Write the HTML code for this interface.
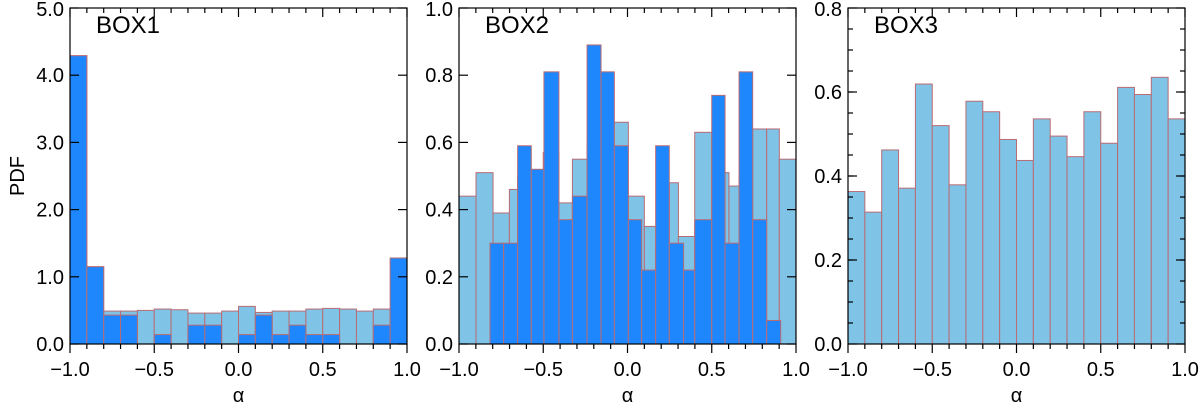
<!DOCTYPE html>
<html><head><meta charset="utf-8"><style>
body{margin:0;background:#fff}
svg text{font-family:"Liberation Sans",sans-serif;fill:#000}
</style></head><body>
<svg id="c" width="1200" height="408"></svg>
<script>
// Panel 1 (BOX1): 20 bins of width 0.1
const box1Light=[4.29,1.15,0.49,0.49,0.50,0.52,0.51,0.46,0.46,0.49,0.56,0.47,0.49,0.49,0.52,0.53,0.52,0.49,0.52,0.51];
const box1Dark=[4.29,1.15,0.43,0.43,0,0.14,0,0.28,0.28,0,0.14,0.43,0.14,0.28,0.14,0.14,0,0,0.28,1.28];
// Panel 2 (BOX2): bin edges and values
const box2LightEdges=[-1,-0.899,-0.798,-0.701,-0.652,-0.5,-0.407,-0.327,-0.24,-0.078,0.005,0.1,0.167,0.248,0.302,0.399,0.5,0.579,0.602,0.662,0.743,0.826,0.901,1];
const box2Light=[0.44,0.51,0.39,0.46,0.5,0.57,0.42,0.55,0.6,0.66,0.44,0.35,0.3,0.48,0.32,0.63,0.5,0.51,0.47,0.5,0.64,0.64,0.55];
const box2DarkEdges=[-0.816,-0.735,-0.652,-0.571,-0.496,-0.407,-0.327,-0.24,-0.157,-0.078,0.005,0.084,0.167,0.248,0.333,0.399,0.5,0.579,0.662,0.743,0.826,0.909];
const box2Dark=[0.30,0.30,0.59,0.52,0.81,0.37,0.44,0.89,0.81,0.59,0.37,0.22,0.59,0.30,0.22,0.37,0.74,0.30,0.81,0.37,0.07];
// Panel 3 (BOX3): 20 bins
const box3=[0.363,0.314,0.462,0.371,0.619,0.52,0.379,0.578,0.553,0.487,0.437,0.536,0.495,0.446,0.553,0.478,0.611,0.594,0.635,0.536];
const xTicks=["\u22121.0","\u22120.5","0.0","0.5","1.0"];
const xTickVals=[-1,-0.5,0,0.5,1];
const y1Ticks=[0,1,2,3,4,5], y2Ticks=[0,0.2,0.4,0.6,0.8,1.0], y3Ticks=[0,0.2,0.4,0.6,0.8];

const svg=document.getElementById('c');
const NS='http://www.w3.org/2000/svg';
function mk(tag,attrs,parent){const e=document.createElementNS(NS,tag);for(const k in attrs)e.setAttribute(k,attrs[k]);(parent||svg).appendChild(e);return e;}
const LIGHT='#7fc3e6', DARK='#1f87fd', EDGE='#b86c74';
const T=8,B=344;
function panel(name,x0,x1,ymax,yt,dec,label){
  const g=mk('g',{});
  
  
  const sx=v=>x0+(v+1)/2*(x1-x0);
  const sy=v=>B-v/ymax*(B-T);
  return {g,sx,sy,x0,x1,ymax,yt,dec,label};
}
function bars(p,edges,vals,color,nm){
  for(let i=0;i<vals.length;i++){
    const xa=p.sx(edges[i]),xb=p.sx(edges[i+1]),y=p.sy(vals[i]);
    if(vals[i]<=0)continue;
    const r=mk('rect',{x:xa,y:y,width:xb-xa,height:B-y,fill:color,stroke:EDGE,'stroke-width':1},p.g);
    
    
  }
}
function axes(p,yMinor){
  const fr=mk('rect',{x:p.x0,y:T,width:p.x1-p.x0,height:B-T,fill:'none',stroke:'#000','stroke-width':1.2},p.g);
  
  
  for(let k=0;k<=20;k++){
    const v=-1+k*0.1,x=p.sx(v),len=(k%5==0)?9:5;
    mk('line',{x1:x,y1:B,x2:x,y2:B+len,stroke:'#000','stroke-width':1.2},p.g);
    mk('line',{x1:x,y1:T,x2:x,y2:T+len,stroke:'#000','stroke-width':1.2},p.g);
  }
  xTickVals.forEach((v,i)=>{
    const t=mk('text',{x:p.sx(v),y:376,'font-size':20,'text-anchor':'middle'},p.g);t.textContent=xTicks[i];
    
    
  });
  p.yt.forEach(v=>{
    const y=p.sy(v);
    mk('line',{x1:p.x1,y1:y,x2:p.x1-9,y2:y,stroke:'#000','stroke-width':1.2},p.g);
    mk('line',{x1:p.x0,y1:y,x2:p.x0+9,y2:y,stroke:'#000','stroke-width':1.2},p.g);
    const t=mk('text',{x:p.x0-6,y:y+(v==p.ymax?8:7),'font-size':20,'text-anchor':'end'},p.g);t.textContent=v.toFixed(1);
    
    
  });
  if(yMinor){for(let v=yMinor;v<p.ymax;v+=yMinor){const y=p.sy(v);
    mk('line',{x1:p.x1,y1:y,x2:p.x1-5,y2:y,stroke:'#000','stroke-width':1.2},p.g);
    mk('line',{x1:p.x0,y1:y,x2:p.x0+5,y2:y,stroke:'#000','stroke-width':1.2},p.g);}}
  const a=mk('text',{x:(p.x0+p.x1)/2,y:402,'font-size':20,'text-anchor':'middle'},p.g);a.textContent='\u03b1';
  
  
  const l=mk('text',{x:p.x0+26,y:33,'font-size':24},p.g);l.textContent=p.label;
  
  
}
const e20=[];for(let i=0;i<=20;i++)e20.push(-1+i*0.1);
const p1=panel('panel-box1',70,407,5,y1Ticks,1,'BOX1');
bars(p1,e20,box1Light,LIGHT,'box1-light');bars(p1,e20,box1Dark,DARK,'box1-dark');axes(p1,0);
const p2=panel('panel-box2',459,796,1,y2Ticks,1,'BOX2');
bars(p2,box2LightEdges,box2Light,LIGHT,'box2-light');bars(p2,box2DarkEdges,box2Dark,DARK,'box2-dark');axes(p2,0);
const p3=panel('panel-box3',848,1185,0.8,y3Ticks,1,'BOX3');
bars(p3,e20,box3,LIGHT,'box3');axes(p3,0.05);
const yl=mk('text',{x:0,y:0,'font-size':20,'text-anchor':'middle',transform:'translate(24,176) rotate(-90)'});yl.textContent='PDF';


</script>
</body></html>
